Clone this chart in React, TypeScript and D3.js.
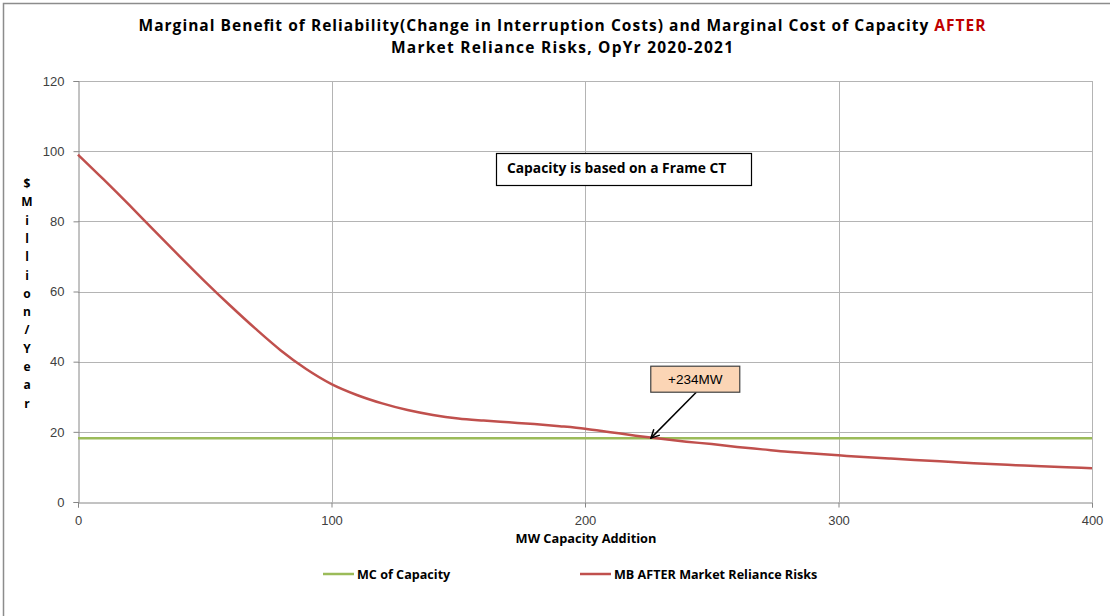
import React, { useRef, useEffect } from "react";
import * as d3 from "d3";

// MW capacity addition (x) and marginal benefit after market reliance risks ($M/yr)
const mwAdded = [
  0, 10, 20, 30, 40, 50, 60, 70, 80, 90, 100, 110, 120, 130, 140, 150, 160, 170, 180, 190, 200,
  210, 220, 230, 240, 250, 260, 270, 280, 290, 300, 310, 320, 330, 340, 350, 360, 370, 380, 390, 400,
];
const mbAfter = [
  99, 92, 84.8, 77.4, 70.1, 62.9, 56, 49.4, 43.2, 37.9, 33.6, 30.5, 28.1, 26.2, 24.8, 23.8, 23.2,
  22.7, 22.2, 21.6, 20.9, 19.9, 18.9, 18.0, 17.2, 16.5, 15.7, 15.0, 14.3, 13.8, 13.3, 12.8, 12.4,
  12.0, 11.6, 11.2, 10.8, 10.5, 10.2, 9.9, 9.6,
];
const mcCapacity = 18.2;
const mcRange = [0, 400];

const xTicks = [0, 100, 200, 300, 400];
const yTicks = [0, 20, 40, 60, 80, 100, 120];
const yTitleLetters = ["$", "M", "i", "l", "l", "i", "o", "n", "/", "Y", "e", "a", "r"];

const crossing = { x: 226, y: 18.2, label: "+234MW", boxX: 243.5, boxY: 35 };
const noteText = "Capacity is based on a Frame CT";

const W = 1110;
const H = 616;
const margin = { left: 78, right: 18, top: 81, bottom: 114 };

const App = () => {
  const svgRef = useRef<SVGSVGElement>(null);

  useEffect(() => {
    const svg = d3.select(svgRef.current);
    svg.selectAll("*").remove();
    const font = "'Liberation Sans', Arial, sans-serif";
    const bold = "'Open Sans', 'Liberation Sans', sans-serif";

    const xScale = d3.scaleLinear().domain([0, 400]).range([margin.left, W - margin.right]);
    const yScale = d3.scaleLinear().domain([0, 120]).range([H - margin.bottom, margin.top]);

    svg.append("rect").attr("width", W).attr("height", H).attr("fill", "white");
    svg
      .append("rect")
      .attr("x", 3.5)
      .attr("y", 3.5)
      .attr("width", W + 20)
      .attr("height", H + 20)
      .attr("fill", "none")
      .attr("stroke", "#8c8c8c")
      .attr("stroke-width", 1.5);

    // gridlines
    const grid = svg.append("g");
    grid
      .selectAll(".hg")
      .data(yTicks.filter((d) => d > 0))
      .join("line")
      .attr("x1", xScale(0))
      .attr("x2", xScale(400))
      .attr("y1", (d) => Math.round(yScale(d)) + 0.5)
      .attr("y2", (d) => Math.round(yScale(d)) + 0.5)
      .attr("stroke", "#b4b4b4");
    grid
      .selectAll(".vg")
      .data(xTicks.filter((d) => d > 0))
      .join("line")
      .attr("x1", (d) => Math.round(xScale(d)) + 0.5)
      .attr("x2", (d) => Math.round(xScale(d)) + 0.5)
      .attr("y1", yScale(0))
      .attr("y2", yScale(120))
      .attr("stroke", "#b4b4b4");

    // axes
    const yAxis = d3.axisLeft(yScale).tickValues(yTicks).tickSize(5).tickPadding(9);
    const gy = svg.append("g").attr("transform", `translate(${Math.round(xScale(0)) + 0.5},0)`).call(yAxis);
    const xAxis = d3.axisBottom(xScale).tickValues(xTicks).tickSize(5).tickPadding(8);
    const gx = svg.append("g").attr("transform", `translate(0,${Math.round(yScale(0)) + 0.5})`).call(xAxis);
    [gx, gy].forEach((g) => {
      g.select(".domain").attr("stroke", "#868686");
      g.selectAll("line").attr("stroke", "#868686");
      g.selectAll("text")
        .attr("fill", "#404040")
        .style("font-family", font)
        .style("font-size", "13px");
    });

    // MC line
    svg
      .append("line")
      .attr("x1", xScale(mcRange[0]))
      .attr("x2", xScale(mcRange[1]))
      .attr("y1", yScale(mcCapacity))
      .attr("y2", yScale(mcCapacity))
      .attr("stroke", "#9BBB59")
      .attr("stroke-width", 2.5);

    // MB curve
    const line = d3
      .line<number>()
      .x((d, i) => xScale(mwAdded[i]))
      .y((d) => yScale(d))
      .curve(d3.curveMonotoneX);
    svg
      .append("path")
      .datum(mbAfter)
      .attr("d", line)
      .attr("fill", "none")
      .attr("stroke", "#C0504D")
      .attr("stroke-width", 2.5);

    // title
    const title = svg
      .append("text")
      .attr("text-anchor", "middle")
      .style("font-family", bold)
      .style("font-weight", "bold")
      .style("font-size", "15.5px")
      .attr("fill", "#000");
    const t1 = title
      .append("tspan")
      .attr("x", 562)
      .attr("y", 31)
      .attr("textLength", 847)
      .attr("lengthAdjust", "spacing");
    t1.append("tspan").text(
      "Marginal Benefit of Reliability(Change in Interruption Costs) and Marginal Cost of Capacity "
    );
    t1.append("tspan").attr("fill", "#C00000").text("AFTER");
    title
      .append("tspan")
      .attr("x", 562)
      .attr("y", 53)
      .attr("textLength", 342)
      .attr("lengthAdjust", "spacing")
      .text("Market Reliance Risks, OpYr 2020-2021");

    // y axis title (stacked letters)
    svg
      .append("g")
      .selectAll("text")
      .data(yTitleLetters)
      .join("text")
      .attr("x", 27)
      .attr("y", (d, i) => 188 + i * 18.3)
      .attr("text-anchor", "middle")
      .style("font-family", bold)
      .style("font-weight", "bold")
      .style("font-size", "12px")
      .text((d) => d);

    // x axis title
    svg
      .append("text")
      .attr("x", 586)
      .attr("y", 543)
      .attr("text-anchor", "middle")
      .style("font-family", bold)
      .style("font-weight", "bold")
      .style("font-size", "12.8px")
      .text("MW Capacity Addition");

    // legend
    const legend = [
      { label: "MC of Capacity", color: "#9BBB59", x: 323 },
      { label: "MB AFTER Market Reliance Risks", color: "#C0504D", x: 580 },
    ];
    const lg = svg.append("g").selectAll("g").data(legend).join("g");
    lg.append("line")
      .attr("x1", (d) => d.x)
      .attr("x2", (d) => d.x + 31)
      .attr("y1", 574)
      .attr("y2", 574)
      .attr("stroke", (d) => d.color)
      .attr("stroke-width", 2.5);
    lg.append("text")
      .attr("x", (d) => d.x + 34)
      .attr("y", 578.5)
      .style("font-family", bold)
      .style("font-weight", "bold")
      .style("font-size", "12.6px")
      .text((d) => d.label);

    // note box
    svg
      .append("rect")
      .attr("x", 496.5)
      .attr("y", 153.5)
      .attr("width", 255)
      .attr("height", 32)
      .attr("fill", "white")
      .attr("stroke", "#000")
      .attr("stroke-width", 1.2);
    svg
      .append("text")
      .attr("x", 507)
      .attr("y", 173)
      .style("font-family", bold)
      .style("font-weight", "bold")
      .style("font-size", "13.8px")
      .text(noteText);

    // crossing annotation
    const bx = xScale(crossing.boxX);
    const by = yScale(crossing.boxY);
    const defs = svg.append("defs");
    defs
      .append("marker")
      .attr("id", "arrow")
      .attr("viewBox", "0 0 10 10")
      .attr("refX", 9)
      .attr("refY", 5)
      .attr("markerWidth", 7)
      .attr("markerHeight", 7)
      .attr("orient", "auto")
      .append("path")
      .attr("d", "M1,1 L9,5 L1,9")
      .attr("fill", "none")
      .attr("stroke", "#000")
      .attr("stroke-width", 1.4);
    svg
      .append("line")
      .attr("x1", bx + 1)
      .attr("y1", by + 13)
      .attr("x2", xScale(crossing.x))
      .attr("y2", yScale(crossing.y))
      .attr("stroke", "#000")
      .attr("stroke-width", 1.5)
      .attr("marker-end", "url(#arrow)");
    svg
      .append("rect")
      .attr("x", bx - 44.5)
      .attr("y", by - 13)
      .attr("width", 89)
      .attr("height", 26)
      .attr("fill", "#FBD5B5")
      .attr("stroke", "#404040")
      .attr("stroke-width", 1.2);
    svg
      .append("text")
      .attr("x", bx)
      .attr("y", by + 5)
      .attr("text-anchor", "middle")
      .style("font-family", font)
      .style("font-size", "13.5px")
      .text(crossing.label);
  }, []);

  return (
    <div style={{ position: "absolute", left: 0, top: 0, width: W, height: H }}>
      <svg ref={svgRef} width={W} height={H} style={{ display: "block" }} />
    </div>
  );
};

export default App;
